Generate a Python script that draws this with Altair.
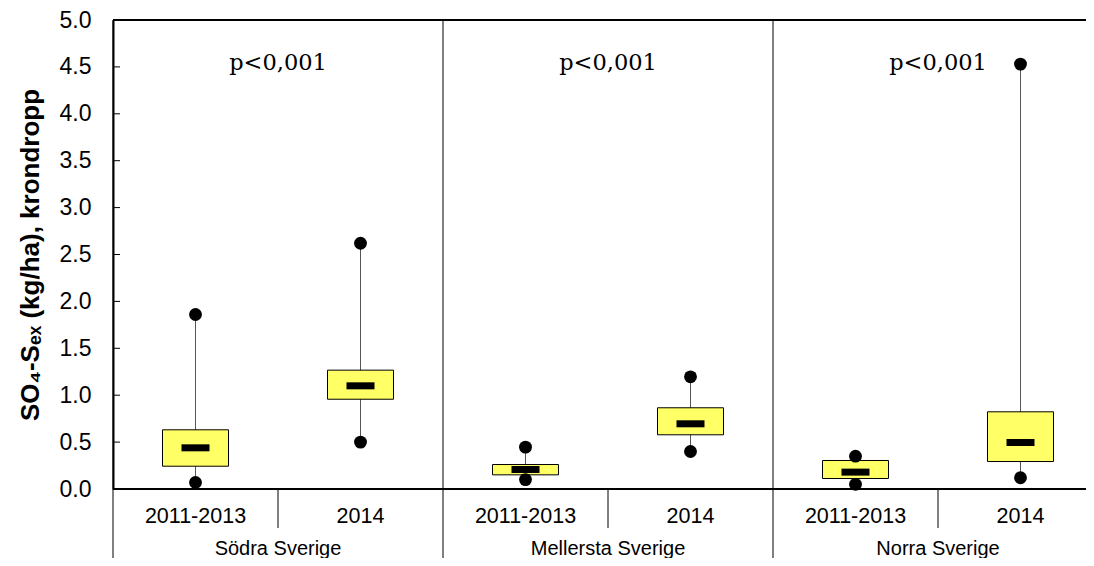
import altair as alt
import pandas as pd

regions = ["Södra Sverige", "Mellersta Sverige", "Norra Sverige"]
periods = ["2011-2013", "2014"]
p_texts = ["p<0,001", "p<0,001", "p<0,001"]

minimum = [0.07, 0.50, 0.10, 0.40, 0.05, 0.12]
lower_q = [0.243, 0.957, 0.151, 0.578, 0.112, 0.293]
median = [0.439, 1.10, 0.208, 0.695, 0.18, 0.496]
upper_q = [0.631, 1.267, 0.261, 0.866, 0.304, 0.823]
maximum = [1.86, 2.62, 0.446, 1.196, 0.35, 4.53]

y_ticks = [0.0, 0.5, 1.0, 1.5, 2.0, 2.5, 3.0, 3.5, 4.0, 4.5, 5.0]

keys = [f"{r}|{p}" for r in regions for p in periods]

box_df = pd.DataFrame({
    "key": keys,
    "min": minimum,
    "q1": lower_q,
    "med": median,
    "q3": upper_q,
    "max": maximum,
})
group_df = pd.DataFrame({
    "region": regions,
    "first": [f"{r}|{periods[0]}" for r in regions],
    "second": [f"{r}|{periods[1]}" for r in regions],
    "p": p_texts,
})
tick_df = pd.DataFrame({"v": y_ticks})
one_df = pd.DataFrame({"a": [0]})

W, H = 973, 469
SANS = "Liberation Sans"

xscale = alt.Scale(domain=keys, range=[0, 990], paddingInner=0, paddingOuter=0)
yscale = alt.Scale(domain=[0, 5], nice=False, zero=True)

xaxis = alt.Axis(
    title=None,
    labelExpr="split(datum.value, '|')[1]",
    ticks=False,
    domain=False,
    grid=False,
    labelAngle=0,
    labelFont=SANS,
    labelFontSize=21.5,
    labelColor="black",
    labelBaseline="middle",
    labelPadding=27,
    labelOverlap=False,
)
yaxis = alt.Axis(
    title="SO₄-Sₑₓ (kg/ha), krondropp",
    values=y_ticks,
    format=".1f",
    ticks=False,
    grid=False,
    domainColor="black",
    domainWidth=2,
    labelFont=SANS,
    labelFontSize=23,
    labelColor="black",
    labelPadding=22,
    titleFont=SANS,
    titleFontSize=26,
    titleFontWeight="bold",
    titleColor="black",
    titlePadding=16,
)


def X(field, **kw):
    return alt.X(f"{field}:N", scale=xscale, axis=xaxis, **kw)


def Y(field):
    return alt.Y(f"{field}:Q", scale=yscale, axis=yaxis)


boxes = alt.Chart(box_df)

whisker = boxes.mark_rule(color="#555555", strokeWidth=1).encode(
    x=X("key"), y=Y("min"), y2="max:Q"
)
box = boxes.mark_bar(fill="#FFFF66", stroke="black", strokeWidth=1, size=66).encode(
    x=X("key"), y=Y("q1"), y2="q3:Q"
)
med = boxes.mark_tick(color="black", thickness=7, size=28, opacity=1).encode(
    x=X("key"), y=Y("med")
)
pmin = boxes.mark_circle(color="black", size=165, opacity=1).encode(
    x=X("key"), y=Y("min")
)
pmax = boxes.mark_circle(color="black", size=165, opacity=1).encode(
    x=X("key"), y=Y("max")
)

top_line = alt.Chart(one_df).mark_rule(color="black", strokeWidth=2).encode(
    x=alt.value(0), x2=alt.value(990), y=alt.value(0)
)
bottom_line = alt.Chart(one_df).mark_rule(color="black", strokeWidth=2).encode(
    x=alt.value(0), x2=alt.value(990), y=alt.value(H)
)
y_tick_marks = alt.Chart(tick_df).mark_rule(color="black", strokeWidth=1).encode(
    y=Y("v"), x=alt.value(0), x2=alt.value(7)
)

groups = alt.Chart(group_df)
group_sep = groups.mark_rule(color="black", strokeWidth=1).encode(
    x=X("first", bandPosition=0), y=alt.value(0), y2=alt.value(560)
)
cat_sep = groups.mark_rule(color="black", strokeWidth=1).encode(
    x=X("second", bandPosition=0), y=alt.value(H), y2=alt.value(H + 39)
)
group_labels = groups.mark_text(
    font=SANS, fontSize=20, color="black", baseline="middle", align="center"
).encode(x=X("second", bandPosition=0), y=alt.value(529), text="region:N")
p_labels = groups.mark_text(
    font="DejaVu Serif", fontSize=22.5, color="black", baseline="alphabetic", align="center"
).encode(x=X("second", bandPosition=0), y=alt.value(49.5), text="p:N")

chart = alt.layer(
    whisker, box, med, pmin, pmax,
    y_tick_marks, group_sep, cat_sep, top_line, bottom_line,
    group_labels, p_labels,
).properties(
    width=W,
    height=H,
    autosize=alt.AutoSizeParams(type="none"),
    padding={"left": 105, "top": 12, "right": 0, "bottom": 69},
    background="white",
).configure_view(stroke=None)

chart.save("out.html", embed_options={"renderer": "svg", "actions": False})
